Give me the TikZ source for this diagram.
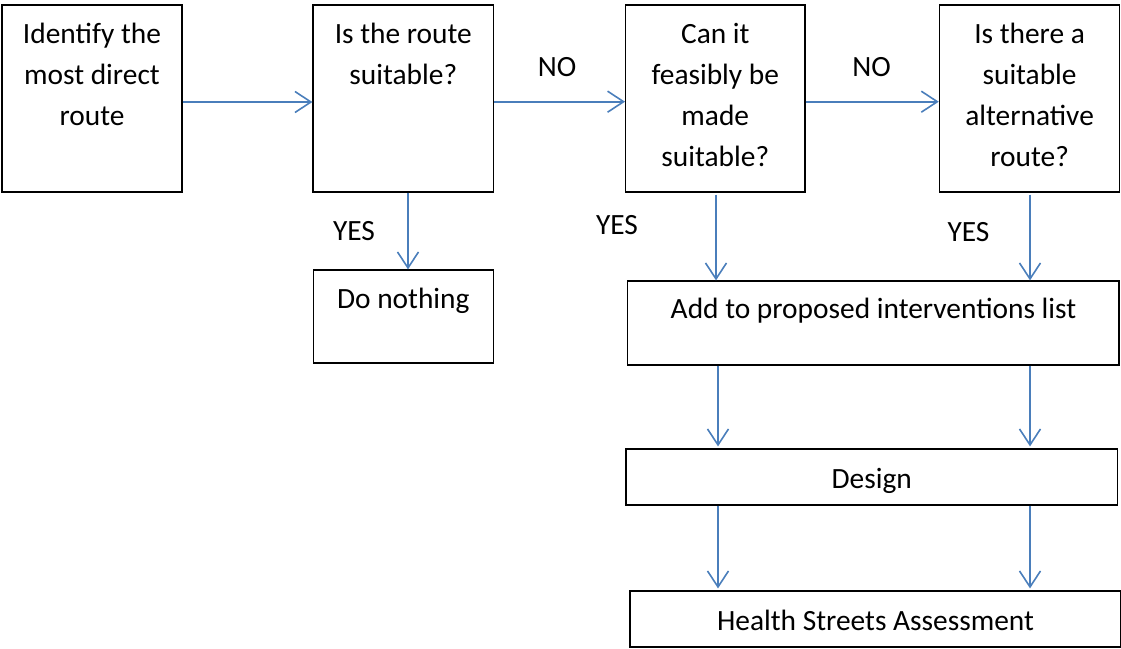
\documentclass[tikz,border=0pt]{standalone}
\usepackage{fontspec}
\setmainfont{Carlito}
\usetikzlibrary{arrows.meta}
\definecolor{arrowblue}{HTML}{4A7EBB}
\begin{document}
\begin{tikzpicture}[x=1pt,y=-1pt,
  box/.style={draw=black,line width=1.2pt,rectangle,inner sep=0pt},
  txt/.style={font=\fontsize{29.4}{41}\selectfont,align=center,inner sep=0pt,anchor=base},
  lab/.style={font=\fontsize{29.4}{41}\selectfont,inner sep=0pt,anchor=base},
  conn/.style={draw=arrowblue,line width=1.6pt,-{Straight Barb[length=16pt,width=21pt]}}]
\useasboundingbox (0,0) rectangle (1121,648);
% boxes
\node[box,minimum width=180pt,minimum height=187pt] (b1) at (92,98.5) {};
\node[box,minimum width=180.5pt,minimum height=187pt] (b2) at (403.25,98.5) {};
\node[box,minimum width=179.3pt,minimum height=187pt] (b3) at (715.3,98.5) {};
\node[box,minimum width=180.5pt,minimum height=187pt] (b4) at (1029.6,98.5) {};
\node[box,minimum width=180pt,minimum height=93pt] (dn) at (403.3,316.5) {};
\node[box,minimum width=491.3pt,minimum height=84pt] (add) at (873.4,323) {};
\node[box,minimum width=491.3pt,minimum height=56pt] (des) at (871.7,477) {};
\node[box,minimum width=490.5pt,minimum height=56pt] (hsa) at (875.3,619) {};
% texts (base anchor = baseline of the last line)
\node[txt] (t1) at (92,125) {Identify the\\most direct\\route};
\node[txt] (t2) at (403.3,84) {Is the route\\suitable?};
\node[txt] (t3) at (715.3,166) {Can it\\feasibly be\\made\\suitable?};
\node[txt] (t4) at (1029.6,166) {Is there a\\suitable\\alternative\\route?};
\node[lab] (tdn) at (403.3,308) {Do nothing};
\node[lab] (tadd) at (873.5,318) {Add to proposed interventions list};
\node[lab] (tdes) at (871.7,488) {Design};
\node[lab] (thsa) at (875.5,630) {Health Streets Assessment};
% labels
\node[lab] (no1) at (557,76) {NO};
\node[lab] (no2) at (871.7,76) {NO};
\node[lab] (yes1) at (354,240) {YES};
\node[lab] (yes2) at (617,234) {YES};
\node[lab] (yes3) at (968.5,241.7) {YES};
% helper columns
\coordinate (c0) at (716,0);
\coordinate (c1) at (718,0);
\coordinate (c2) at (1030,0);
\coordinate (c3) at (408,0);
% connectors
\draw[conn] ([yshift=-3.5pt]b1.east) -- ([yshift=-3.5pt]b2.west);
\draw[conn] ([yshift=-3.2pt]b2.east) -- ([yshift=-3.2pt]b3.west);
\draw[conn] ([yshift=-3.2pt]b3.east) -- ([yshift=-3.2pt]b4.west);
\draw[conn] (b2.south -| c3) -- (dn.north -| c3);
\draw[conn,shorten <=2pt] (b3.south -| c0) -- (add.north -| c0);
\draw[conn,shorten <=2pt] (b4.south -| c2) -- (add.north -| c2);
\draw[conn] (add.south -| c1) -- ([yshift=2pt]des.north -| c1);
\draw[conn] (add.south -| c2) -- ([yshift=2pt]des.north -| c2);
\draw[conn] (des.south -| c1) -- ([yshift=2pt]hsa.north -| c1);
\draw[conn] (des.south -| c2) -- ([yshift=2pt]hsa.north -| c2);
\end{tikzpicture}
\end{document}
